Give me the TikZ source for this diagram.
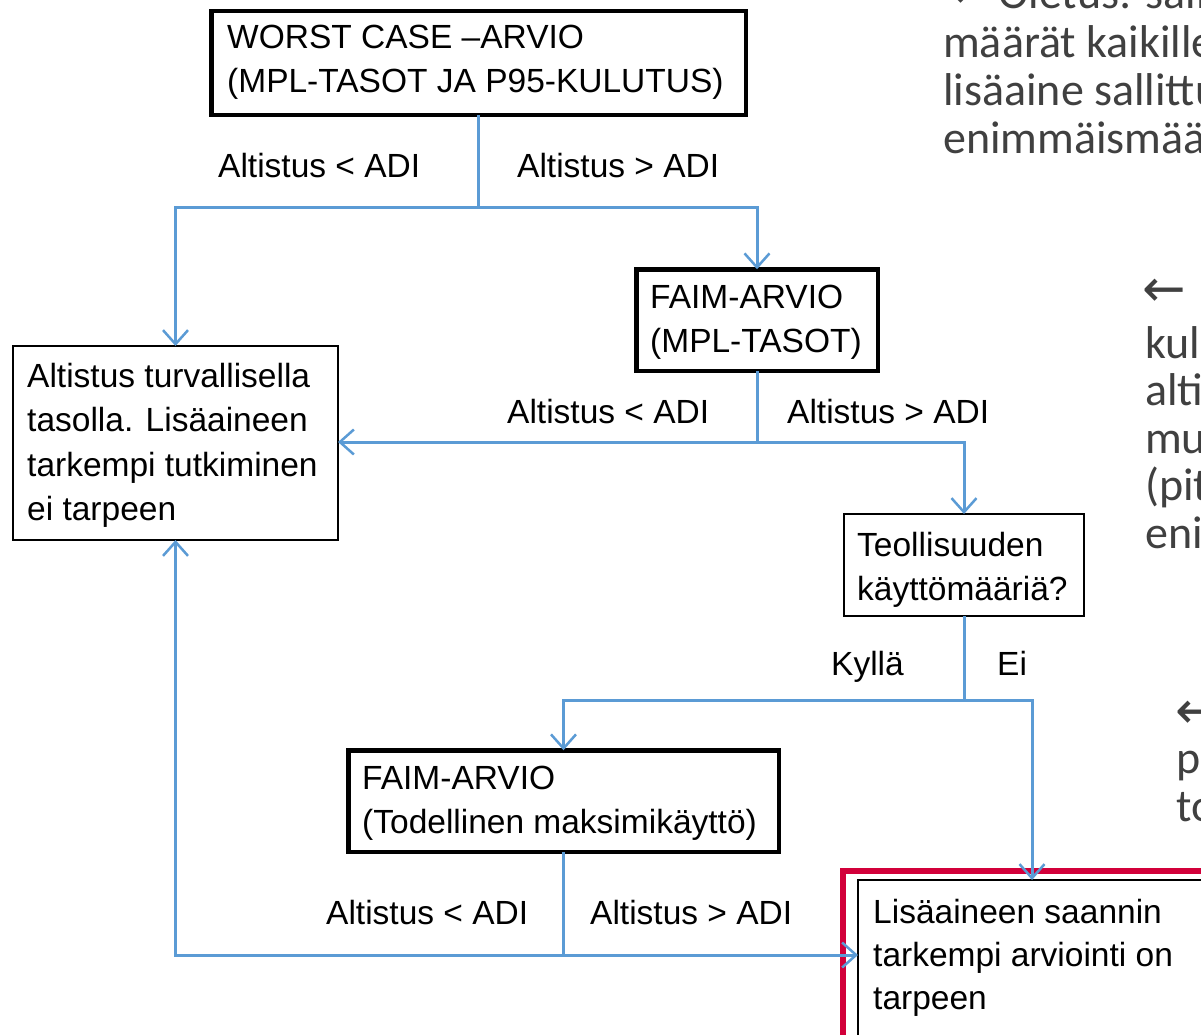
\documentclass[tikz,border=0pt]{standalone}
\usepackage{fontspec}
\setmainfont{Liberation Sans}
\newfontfamily\calfont{Carlito}
\newfontfamily\arrfont{DejaVu Sans}
\usetikzlibrary{arrows.meta}
\definecolor{flowblue}{RGB}{91,155,213}
\definecolor{boxred}{RGB}{210,0,58}
\definecolor{notegray}{RGB}{64,64,64}
\begin{document}
\begin{tikzpicture}[x=1pt,y=-1pt,
  thickbox/.style={draw=black, line width=4.5pt, fill=white, inner sep=0pt, outer sep=0pt},
  thinbox/.style={draw=black, line width=2pt, fill=white, inner sep=0pt, outer sep=0pt},
  redbox/.style={draw=boxred, line width=6pt, fill=white, inner sep=0pt, outer sep=0pt},
  link/.style={draw=flowblue, line width=3pt},
  flow/.style={link, -{Straight Barb[length=14pt,width=25pt,line width=2.5pt]}},
  boxtext/.style={anchor=base west, inner sep=0pt, font=\fontsize{33.5}{44}\selectfont},
  lbl/.style={anchor=base west, inner sep=0pt, font=\fontsize{33.5}{40}\selectfont},
  note/.style={anchor=base west, inner sep=0pt, text=notegray, font=\calfont\fontsize{46}{48}\selectfont},
  notearrow/.style={anchor=base west, inner sep=0pt, text=notegray, font=\arrfont\fontsize{52}{52}\selectfont},
]
\useasboundingbox (0,0) rectangle (1201,1034);
\clip (0,0) rectangle (1201,1034);
\fill[white] (0,0) rectangle (1201,1034);

% boxes
\node[thickbox, minimum width=534.5pt, minimum height=104pt] (top) at (478.5,62.75) {};
\node[thickbox, minimum width=241.5pt, minimum height=101.5pt] (faim1) at (757,320) {};
\node[thinbox, minimum width=325pt, minimum height=194pt] (left) at (175.5,443) {};
\node[thinbox, minimum width=240pt, minimum height=102pt] (teoll) at (964,565) {};
\node[thickbox, minimum width=430.5pt, minimum height=101.5pt] (faim2) at (563.5,801) {};
\node[redbox, minimum width=437pt, minimum height=249pt] (hl) at (1061.5,995.5) {};
\node[thinbox, minimum width=402pt, minimum height=220pt] (final) at (1059,990) {};

% box texts
\node[boxtext] (top1) at (227,48) {WORST CASE –ARVIO};
\node[boxtext] (top2) at (227,92) {(MPL-TASOT JA P95-KULUTUS)};
\node[boxtext] (fa1) at (650,308) {FAIM-ARVIO};
\node[boxtext] (fa2) at (650,352) {(MPL-TASOT)};
\node[boxtext] (le1) at (27,387) {Altistus turvallisella};
\node[boxtext] (le2) at (27,431.5) {tasolla. Lisäaineen};
\node[boxtext] (le3) at (27,476) {tarkempi tutkiminen};
\node[boxtext] (le4) at (27,520.5) {ei tarpeen};
\node[boxtext] (te1) at (857,556) {Teollisuuden};
\node[boxtext] (te2) at (857,600) {käyttömääriä?};
\node[boxtext] (fb1) at (362,789) {FAIM-ARVIO};
\node[boxtext] (fb2) at (362,833) {(Todellinen maksimikäyttö)};
\node[boxtext] (fi1) at (873,923) {Lisäaineen saannin};
\node[boxtext] (fi2) at (873,966) {tarkempi arviointi on};
\node[boxtext] (fi3) at (873,1009) {tarpeen};

% junctions
\coordinate (j1) at (478.5,207);
\coordinate (j2) at (757,442);
\coordinate (j3) at (964,700);
\coordinate (j4) at (563.5,955);

% connectors
\draw[link] (top.south) -- (j1);
\draw[flow] (j1) -| (left.north);
\draw[flow] (j1) -| (faim1.north);
\draw[link] (faim1.south) -- (j2);
\draw[flow] (j2) -- (j2 -| left.east);
\draw[flow] (j2) -| (teoll.north);
\draw[link] (teoll.south) -- (j3);
\draw[flow] (j3) -| (faim2.north);
\draw[flow] (j3) -| ([xshift=174pt]final.north west);
\draw[link] (faim2.south) -- (j4);
\draw[flow] (j4) -- (j4 -| final.west);
\draw[flow] (j4) -| (left.south);

% branch labels
\node[lbl] (l1) at (218,177) {Altistus < ADI};
\node[lbl] (r1) at (517,177) {Altistus > ADI};
\node[lbl] (l2) at (507,423) {Altistus < ADI};
\node[lbl] (r2) at (787,423) {Altistus > ADI};
\node[lbl] (ky) at (831,675) {Kyllä};
\node[lbl] (ei) at (997,675) {Ei};
\node[lbl] (l3) at (326,924) {Altistus < ADI};
\node[lbl] (r3) at (590,924) {Altistus > ADI};

% side notes (cut by the picture edge, as in the reference)
\node[notearrow] (na0) at (948,8) {←};
\node[note] (na1) at (998,8) {Oletus: sallitut};
\node[note] (na2) at (943,57) {määrät kaikille};
\node[note] (na3) at (943,105) {lisäaine sallittu};
\node[note] (na4) at (943,153) {enimmäismäärä};
\node[notearrow] (nb0) at (1142,306) {←};
\node[note] (nb1) at (1145,358) {kulutus};
\node[note] (nb2) at (1145,405.5) {altistus};
\node[note] (nb3) at (1145,453) {muut};
\node[note] (nb4) at (1145,500.5) {(pitkä};
\node[note] (nb5) at (1145,548) {enimmäis};
\node[notearrow] (nc0) at (1175,728) {←};
\node[note] (nc1) at (1176,773) {pitoisuus};
\node[note] (nc2) at (1176,821) {todellinen};
\end{tikzpicture}
\end{document}
